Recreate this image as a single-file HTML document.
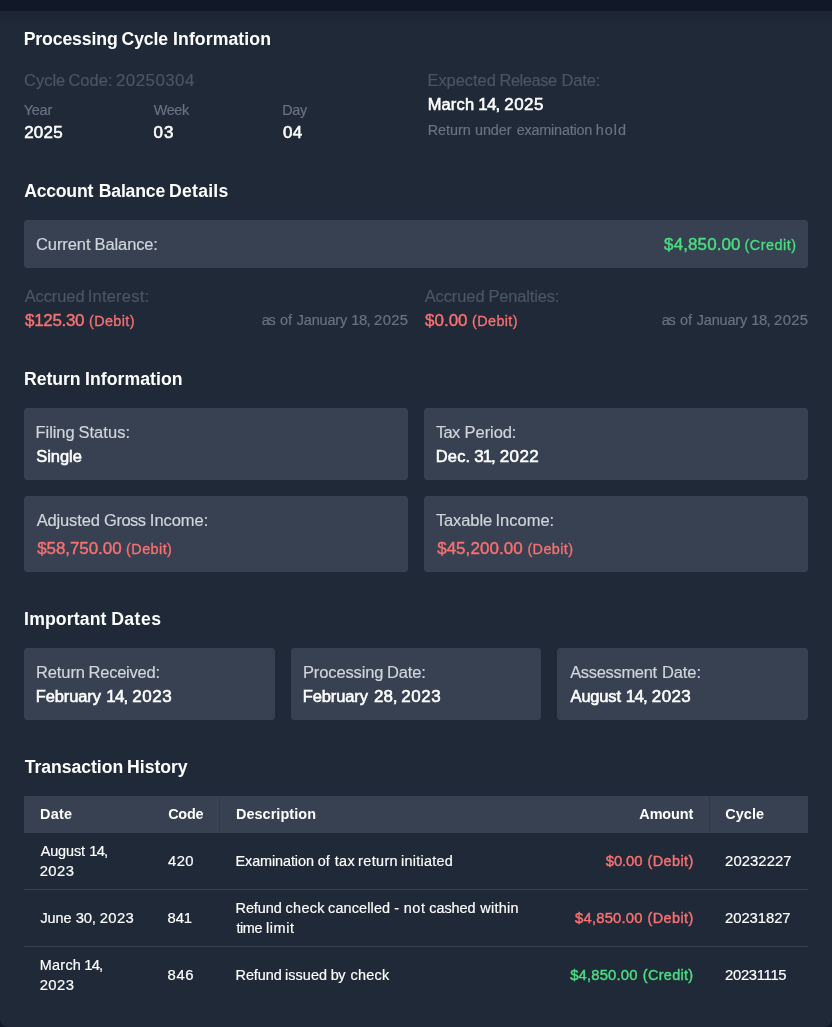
<!DOCTYPE html>
<html><head><meta charset="utf-8">
<style>
*{box-sizing:border-box;margin:0;padding:0}
html,body{width:832px;height:1027px;overflow:hidden;background:#111827}
body{font-family:"Liberation Sans",sans-serif;color:#fff;position:relative}
.card{position:absolute;left:0;top:0;width:832px;height:1027px;background:#1f2937;border-radius:0 0 8px 8px;padding:24px;will-change:transform;-webkit-text-stroke-width:0.18px}
.topband{position:absolute;left:0;top:0;width:832px;height:11px;background:#111827;z-index:5}
.topshadow{position:absolute;left:0;top:11px;width:832px;height:14px;background:linear-gradient(#1c2632,#1f2937);z-index:4}
.t{display:inline-block;white-space:nowrap;transform-origin:0 50%}
.u{display:inline-block;position:relative}
h3{-webkit-text-stroke-width:0;font-size:18px;line-height:28px;font-weight:700;color:#fff;margin-bottom:16px}
.sec{margin-bottom:32px}
.p{font-size:16px;line-height:24px}
.p .u,h3 .u{top:1px}
.p .sm .u{top:1px;-webkit-text-stroke-width:0.3px}
.sm{font-size:14px;line-height:20px}
.dim{color:#4b5563}
.g5{color:#6b7280}
.g3{color:#d1d5db}
.w{color:#fff;-webkit-text-stroke:0.55px #fff}
.red{color:#f87171;-webkit-text-stroke:0.4px #f87171}
.green{color:#4ade80;-webkit-text-stroke:0.4px #4ade80}
.box{background:#374151;border-radius:4px;padding:12px}
.row{display:flex}
.sb{justify-content:space-between}
.tbl{width:784px;font-size:14px;line-height:20px;color:#fff}
.tr{display:flex;align-items:center;border-bottom:1px solid #374151}
.tr>div{padding:0 16px}
.th{background:#374151;font-weight:700;-webkit-text-stroke-width:0}
.c1{width:128px}.c2{width:68px}.c3{width:320px}.c4{width:169px;text-align:right}.c5{width:99px}
.seam{position:absolute;top:0;width:1px;height:36px;background:rgba(31,41,55,.3);padding:0}
.tred{color:#f87171;-webkit-text-stroke:0.4px #f87171}.tgreen{color:#4ade80;-webkit-text-stroke:0.4px #4ade80}
</style></head><body>
<div class="card">
 <div class="sec">
  <h3><span class="t" style="transform:scaleX(0.980)"><span class="u" style="left:-0.33px;letter-spacing:-0.127px;margin-right:0.127px">Processing</span></span> <span class="t" style="transform:scaleX(0.980)"><span class="u" style="left:-3.54px;letter-spacing:-0.122px;margin-right:0.122px">Cycle</span></span> <span class="t" style="transform:scaleX(0.980)"><span class="u" style="left:-4.05px;letter-spacing:0.093px;margin-right:-0.093px">Information</span></span></h3>
  <div class="row" style="gap:24px">
   <div style="width:380px">
    <div class="p dim"><span class="t" style="transform:scaleX(1.030)"><span class="u" style="left:0.02px;letter-spacing:0.006px;margin-right:-0.006px">Cycle</span></span> <span class="t" style="transform:scaleX(1.030)"><span class="u" style="left:-0.60px;letter-spacing:0.038px;margin-right:-0.038px">Code:</span></span> <span class="t" style="transform:scaleX(1.060)"><span class="u" style="left:0.03px;letter-spacing:0.387px;margin-right:-0.387px">20250304</span></span></div>
    <div class="row" style="gap:8px;margin-top:8px">
     <div style="width:121.33px"><div class="sm g5"><span class="t" style="transform:scaleX(1.030)"><span class="u" style="left:-0.37px;letter-spacing:-0.179px;margin-right:0.179px">Year</span></span></div><div class="p w"><span class="t" style="transform:scaleX(1.060)"><span class="u" style="left:0.16px;letter-spacing:0.260px;margin-right:-0.260px">2025</span></span></div></div>
     <div style="width:121.33px"><div class="sm g5"><span class="t" style="transform:scaleX(1.030)"><span class="u" style="left:0.66px;letter-spacing:-0.353px;margin-right:0.353px">Week</span></span></div><div class="p w"><span class="t" style="transform:scaleX(1.060)"><span class="u" style="left:0.40px;letter-spacing:1.133px;margin-right:-1.133px">03</span></span></div></div>
     <div style="width:121.33px"><div class="sm g5"><span class="t" style="transform:scaleX(1.030)"><span class="u" style="left:-0.84px;letter-spacing:-0.322px;margin-right:0.322px">Day</span></span></div><div class="p w"><span class="t" style="transform:scaleX(1.060)"><span class="u" style="left:0.02px;letter-spacing:0.256px;margin-right:-0.256px">04</span></span></div></div>
    </div>
   </div>
   <div style="width:380px">
    <div class="p dim"><span class="t" style="transform:scaleX(1.030)"><span class="u" style="left:-0.53px;letter-spacing:-0.040px;margin-right:0.040px">Expected</span></span> <span class="t" style="transform:scaleX(1.030)"><span class="u" style="left:0.46px;letter-spacing:-0.444px;margin-right:0.444px">Release</span></span> <span class="t" style="transform:scaleX(1.030)"><span class="u" style="left:2.42px;letter-spacing:-0.108px;margin-right:0.108px">Date:</span></span></div>
    <div class="p w"><span class="t" style="transform:scaleX(1.030)"><span class="u" style="left:-0.35px;letter-spacing:0.151px;margin-right:-0.151px">March</span></span> <span class="t" style="transform:scaleX(1.060)"><span class="u" style="left:0.32px;letter-spacing:-0.765px;margin-right:0.765px">14,</span></span> <span class="t" style="transform:scaleX(1.060)"><span class="u" style="left:1.15px;letter-spacing:0.495px;margin-right:-0.495px">2025</span></span></div>
    <div class="sm g5" style="margin-top:4px"><span class="t" style="transform:scaleX(1.030)"><span class="u" style="left:-0.33px;letter-spacing:-0.014px;margin-right:0.014px">Return</span></span> <span class="t" style="transform:scaleX(1.030)"><span class="u" style="left:0.89px;letter-spacing:-0.039px;margin-right:0.039px">under</span></span> <span class="t" style="transform:scaleX(1.030)"><span class="u" style="left:3.56px;letter-spacing:-0.201px;margin-right:0.201px">examination</span></span> <span class="t" style="transform:scaleX(1.030)"><span class="u" style="left:4.71px;letter-spacing:0.907px;margin-right:-0.907px">hold</span></span></div>
   </div>
  </div>
 </div>
 <div class="sec">
  <h3><span class="t" style="transform:scaleX(0.980)"><span class="u" style="left:0.16px;letter-spacing:-0.237px;margin-right:0.237px">Account</span></span> <span class="t" style="transform:scaleX(0.980)"><span class="u" style="left:-1.37px;letter-spacing:-0.170px;margin-right:0.170px">Balance</span></span> <span class="t" style="transform:scaleX(0.980)"><span class="u" style="left:-4.01px;letter-spacing:0.219px;margin-right:-0.219px">Details</span></span></h3>
  <div class="box row sb" style="height:48px">
   <div class="p g3"><span class="t" style="transform:scaleX(1.030)"><span class="u" style="left:-0.04px;letter-spacing:-0.059px;margin-right:0.059px">Current</span></span> <span class="t" style="transform:scaleX(1.030)"><span class="u" style="left:1.56px;letter-spacing:-0.109px;margin-right:0.109px">Balance:</span></span></div>
   <div class="p green"><span class="t" style="transform:scaleX(1.060)"><span class="u" style="left:-4.62px;letter-spacing:0.115px;margin-right:-0.115px">$4,850.00</span></span> <span class="sm"><span class="t" style="transform:scaleX(1.030)"><span class="u" style="left:-1.53px;letter-spacing:0.476px;margin-right:-0.476px">(Credit)</span></span></span></div>
  </div>
  <div class="row" style="gap:16px;margin-top:16px">
   <div style="width:384px">
    <div class="p dim"><span class="t" style="transform:scaleX(1.030)"><span class="u" style="left:0.64px;letter-spacing:-0.080px;margin-right:0.080px">Accrued</span></span> <span class="t" style="transform:scaleX(1.030)"><span class="u" style="left:0.69px;letter-spacing:0.216px;margin-right:-0.216px">Interest:</span></span></div>
    <div class="row sb"><div class="p red"><span class="t" style="transform:scaleX(1.060)"><span class="u" style="left:1.06px;letter-spacing:-0.293px;margin-right:0.293px">$125.30</span></span> <span class="sm"><span class="t" style="transform:scaleX(1.030)"><span class="u" style="left:3.86px;letter-spacing:0.365px;margin-right:-0.365px">(Debit)</span></span></span></div><div class="sm g5" style="line-height:24px"><span class="t" style="transform:scaleX(1.030)"><span class="u" style="left:-6.19px;letter-spacing:-1.106px;margin-right:1.106px">as</span></span> <span class="t" style="transform:scaleX(1.030)"><span class="u" style="left:-5.78px;letter-spacing:-0.127px;margin-right:0.127px">of</span></span> <span class="t" style="transform:scaleX(1.030)"><span class="u" style="left:-4.05px;letter-spacing:-0.166px;margin-right:0.166px">January</span></span> <span class="t" style="transform:scaleX(1.060)"><span class="u" style="left:-2.62px;letter-spacing:-0.540px;margin-right:0.540px">18,</span></span> <span class="t" style="transform:scaleX(1.060)"><span class="u" style="left:-1.82px;letter-spacing:0.308px;margin-right:-0.308px">2025</span></span></div></div>
   </div>
   <div style="width:384px">
    <div class="p dim"><span class="t" style="transform:scaleX(1.030)"><span class="u" style="left:0.64px;letter-spacing:-0.080px;margin-right:0.080px">Accrued</span></span> <span class="t" style="transform:scaleX(1.030)"><span class="u" style="left:1.44px;letter-spacing:-0.167px;margin-right:0.167px">Penalties:</span></span></div>
    <div class="row sb"><div class="p red"><span class="t" style="transform:scaleX(1.060)"><span class="u" style="left:1.06px;letter-spacing:-0.010px;margin-right:0.010px">$0.00</span></span> <span class="sm"><span class="t" style="transform:scaleX(1.030)"><span class="u" style="left:3.93px;letter-spacing:0.361px;margin-right:-0.361px">(Debit)</span></span></span></div><div class="sm g5" style="line-height:24px"><span class="t" style="transform:scaleX(1.030)"><span class="u" style="left:-6.19px;letter-spacing:-1.106px;margin-right:1.106px">as</span></span> <span class="t" style="transform:scaleX(1.030)"><span class="u" style="left:-5.78px;letter-spacing:-0.127px;margin-right:0.127px">of</span></span> <span class="t" style="transform:scaleX(1.030)"><span class="u" style="left:-4.05px;letter-spacing:-0.166px;margin-right:0.166px">January</span></span> <span class="t" style="transform:scaleX(1.060)"><span class="u" style="left:-2.62px;letter-spacing:-0.540px;margin-right:0.540px">18,</span></span> <span class="t" style="transform:scaleX(1.060)"><span class="u" style="left:-1.82px;letter-spacing:0.308px;margin-right:-0.308px">2025</span></span></div></div>
   </div>
  </div>
 </div>
 <div class="sec">
  <h3><span class="t" style="transform:scaleX(0.980)"><span class="u" style="left:0.11px;letter-spacing:-0.074px;margin-right:0.074px">Return</span></span> <span class="t" style="transform:scaleX(0.980)"><span class="u" style="left:-1.98px;letter-spacing:0.043px;margin-right:-0.043px">Information</span></span></h3>
  <div class="row" style="gap:16px">
   <div class="box" style="width:384px;height:72px"><div class="p g3"><span class="t" style="transform:scaleX(1.030)"><span class="u" style="left:-0.39px;letter-spacing:-0.088px;margin-right:0.088px">Filing</span></span> <span class="t" style="transform:scaleX(1.030)"><span class="u" style="left:0.39px;letter-spacing:0.062px;margin-right:-0.062px">Status:</span></span></div><div class="p w"><span class="t" style="transform:scaleX(1.030)"><span class="u" style="left:0.20px;letter-spacing:-0.018px;margin-right:0.018px">Single</span></span></div></div>
   <div class="box" style="width:384px;height:72px"><div class="p g3"><span class="t" style="transform:scaleX(1.030)"><span class="u" style="left:-0.12px;letter-spacing:-0.609px;margin-right:0.609px">Tax</span></span> <span class="t" style="transform:scaleX(1.030)"><span class="u" style="left:0.59px;letter-spacing:-0.060px;margin-right:0.060px">Period:</span></span></div><div class="p w"><span class="t" style="transform:scaleX(1.030)"><span class="u" style="left:-0.32px;letter-spacing:0.199px;margin-right:-0.199px">Dec.</span></span> <span class="t" style="transform:scaleX(1.060)"><span class="u" style="left:0.24px;letter-spacing:-0.994px;margin-right:0.994px">31,</span></span> <span class="t" style="transform:scaleX(1.060)"><span class="u" style="left:0.81px;letter-spacing:0.317px;margin-right:-0.317px">2022</span></span></div></div>
  </div>
  <div class="row" style="gap:16px;margin-top:16px">
   <div class="box" style="width:384px;height:76px"><div class="p g3"><span class="t" style="transform:scaleX(1.030)"><span class="u" style="left:0.61px;letter-spacing:-0.124px;margin-right:0.124px">Adjusted</span></span> <span class="t" style="transform:scaleX(1.030)"><span class="u" style="left:2.07px;letter-spacing:-0.503px;margin-right:0.503px">Gross</span></span> <span class="t" style="transform:scaleX(1.030)"><span class="u" style="left:2.75px;letter-spacing:-0.030px;margin-right:0.030px">Income:</span></span></div><div class="p red" style="line-height:28px;padding-top:2px"><span class="t" style="transform:scaleX(1.060)"><span class="u" style="left:1.07px;letter-spacing:-0.042px;margin-right:0.042px">$58,750.00</span></span> <span class="sm"><span class="t" style="transform:scaleX(1.030)"><span class="u" style="left:5.90px;letter-spacing:0.412px;margin-right:-0.412px">(Debit)</span></span></span></div></div>
   <div class="box" style="width:384px;height:76px"><div class="p g3"><span class="t" style="transform:scaleX(1.030)"><span class="u" style="left:-0.12px;letter-spacing:-0.088px;margin-right:0.088px">Taxable</span></span> <span class="t" style="transform:scaleX(1.030)"><span class="u" style="left:0.45px;letter-spacing:0.012px;margin-right:-0.012px">Income:</span></span></div><div class="p red" style="line-height:28px;padding-top:2px"><span class="t" style="transform:scaleX(1.060)"><span class="u" style="left:1.07px;letter-spacing:0.063px;margin-right:-0.063px">$45,200.00</span></span> <span class="sm"><span class="t" style="transform:scaleX(1.030)"><span class="u" style="left:6.22px;letter-spacing:0.371px;margin-right:-0.371px">(Debit)</span></span></span></div></div>
  </div>
 </div>
 <div class="sec">
  <h3><span class="t" style="transform:scaleX(0.980)"><span class="u" style="left:0.13px;letter-spacing:0.130px;margin-right:-0.130px">Important</span></span> <span class="t" style="transform:scaleX(0.980)"><span class="u" style="left:-1.89px;letter-spacing:0.449px;margin-right:-0.449px">Dates</span></span></h3>
  <div class="row" style="gap:16px">
   <div class="box" style="width:250.67px;height:72px"><div class="p g3"><span class="t" style="transform:scaleX(1.030)"><span class="u" style="left:-0.11px;letter-spacing:-0.063px;margin-right:0.063px">Return</span></span> <span class="t" style="transform:scaleX(1.030)"><span class="u" style="left:0.59px;letter-spacing:-0.230px;margin-right:0.230px">Received:</span></span></div><div class="p w"><span class="t" style="transform:scaleX(1.030)"><span class="u" style="left:-0.32px;letter-spacing:-0.103px;margin-right:0.103px">February</span></span> <span class="t" style="transform:scaleX(1.060)"><span class="u" style="left:2.23px;letter-spacing:-0.799px;margin-right:0.799px">14,</span></span> <span class="t" style="transform:scaleX(1.060)"><span class="u" style="left:3.09px;letter-spacing:0.524px;margin-right:-0.524px">2023</span></span></div></div>
   <div class="box" style="width:250.67px;height:72px"><div class="p g3"><span class="t" style="transform:scaleX(1.030)"><span class="u" style="left:-0.08px;letter-spacing:-0.104px;margin-right:0.104px">Processing</span></span> <span class="t" style="transform:scaleX(1.030)"><span class="u" style="left:1.86px;letter-spacing:-0.098px;margin-right:0.098px">Date:</span></span></div><div class="p w"><span class="t" style="transform:scaleX(1.030)"><span class="u" style="left:-0.32px;letter-spacing:-0.103px;margin-right:0.103px">February</span></span> <span class="t" style="transform:scaleX(1.060)"><span class="u" style="left:3.68px;letter-spacing:0.050px;margin-right:-0.050px">28,</span></span> <span class="t" style="transform:scaleX(1.060)"><span class="u" style="left:4.04px;letter-spacing:0.539px;margin-right:-0.539px">2023</span></span></div></div>
   <div class="box" style="width:250.67px;height:72px"><div class="p g3"><span class="t" style="transform:scaleX(1.030)"><span class="u" style="left:1.13px;letter-spacing:-0.304px;margin-right:0.304px">Assessment</span></span> <span class="t" style="transform:scaleX(1.030)"><span class="u" style="left:3.85px;letter-spacing:-0.076px;margin-right:0.076px">Date:</span></span></div><div class="p w"><span class="t" style="transform:scaleX(1.030)"><span class="u" style="left:1.53px;letter-spacing:-0.172px;margin-right:0.172px">August</span></span> <span class="t" style="transform:scaleX(1.060)"><span class="u" style="left:2.69px;letter-spacing:-0.835px;margin-right:0.835px">14,</span></span> <span class="t" style="transform:scaleX(1.060)"><span class="u" style="left:3.59px;letter-spacing:0.395px;margin-right:-0.395px">2023</span></span></div></div>
  </div>
 </div>
 <div>
  <h3><span class="t" style="transform:scaleX(0.980)"><span class="u" style="left:0.68px;letter-spacing:-0.047px;margin-right:0.047px">Transaction</span></span> <span class="t" style="transform:scaleX(0.980)"><span class="u" style="left:-2.97px;letter-spacing:-0.035px;margin-right:0.035px">History</span></span></h3>
  <div class="tbl">
   <div class="tr th" style="height:37px;position:relative"><i class="seam" style="left:195px"></i><i class="seam" style="left:685px"></i><div class="c1"><span class="t" style="transform:scaleX(1.030)"><span class="u" style="left:-0.10px;letter-spacing:0.304px;margin-right:-0.304px">Date</span></span></div><div class="c2"><span class="t" style="transform:scaleX(1.030)"><span class="u" style="left:0.13px;letter-spacing:-0.190px;margin-right:0.190px">Code</span></span></div><div class="c3"><span class="t" style="transform:scaleX(1.030)"><span class="u" style="left:-0.10px;letter-spacing:0.073px;margin-right:-0.073px">Description</span></span></div><div class="c4"><span class="t" style="transform:scaleX(1.030)"><span class="u" style="left:-1.60px;letter-spacing:-0.112px;margin-right:0.112px">Amount</span></span></div><div class="c5"><span class="t" style="transform:scaleX(1.030)"><span class="u" style="left:0.13px;letter-spacing:0.101px;margin-right:-0.101px">Cycle</span></span></div></div>
   <div class="tr" style="height:57px"><div class="c1"><span class="t" style="transform:scaleX(1.030)"><span class="u" style="left:0.64px;letter-spacing:-0.097px;margin-right:0.097px">August</span></span> <span class="t" style="transform:scaleX(1.060)"><span class="u" style="left:2.11px;letter-spacing:-0.765px;margin-right:0.765px">14,</span></span><br><span class="t" style="transform:scaleX(1.060)"><span class="u" style="left:-0.35px;letter-spacing:0.448px;margin-right:-0.448px">2023</span></span></div><div class="c2"><span class="t" style="transform:scaleX(1.060)"><span class="u" style="left:0.04px;letter-spacing:0.380px;margin-right:-0.380px">420</span></span></div><div class="c3"><span class="t" style="transform:scaleX(1.030)"><span class="u" style="left:-0.46px;letter-spacing:-0.095px;margin-right:0.095px">Examination</span></span> <span class="t" style="transform:scaleX(1.030)"><span class="u" style="left:1.62px;letter-spacing:0.164px;margin-right:-0.164px">of</span></span> <span class="t" style="transform:scaleX(1.030)"><span class="u" style="left:2.65px;letter-spacing:0.326px;margin-right:-0.326px">tax</span></span> <span class="t" style="transform:scaleX(1.030)"><span class="u" style="left:2.99px;letter-spacing:0.356px;margin-right:-0.356px">return</span></span> <span class="t" style="transform:scaleX(1.030)"><span class="u" style="left:3.80px;letter-spacing:0.271px;margin-right:-0.271px">initiated</span></span></div><div class="c4 tred"><span class="t" style="transform:scaleX(1.060)"><span class="u" style="left:-4.04px;letter-spacing:-0.088px;margin-right:0.088px">$0.00</span></span> <span class="t" style="transform:scaleX(1.030)"><span class="u" style="left:-1.37px;letter-spacing:0.376px;margin-right:-0.376px">(Debit)</span></span></div><div class="c5"><span class="t" style="transform:scaleX(1.060)"><span class="u" style="left:0.12px;letter-spacing:0.055px;margin-right:-0.055px">20232227</span></span></div></div>
   <div class="tr" style="height:57px"><div class="c1"><span class="t" style="transform:scaleX(1.030)"><span class="u" style="left:0.43px;letter-spacing:-0.054px;margin-right:0.054px">June</span></span> <span class="t" style="transform:scaleX(1.060)"><span class="u" style="left:1.58px;letter-spacing:-0.251px;margin-right:0.251px">30,</span></span> <span class="t" style="transform:scaleX(1.060)"><span class="u" style="left:2.51px;letter-spacing:0.353px;margin-right:-0.353px">2023</span></span></div><div class="c2"><span class="t" style="transform:scaleX(1.060)"><span class="u" style="left:-0.36px;letter-spacing:-0.150px;margin-right:0.150px">841</span></span></div><div class="c3"><span class="t" style="transform:scaleX(1.030)"><span class="u" style="left:-0.46px;letter-spacing:-0.069px;margin-right:0.069px">Refund</span></span> <span class="t" style="transform:scaleX(1.030)"><span class="u" style="left:0.41px;letter-spacing:0.361px;margin-right:-0.361px">check</span></span> <span class="t" style="transform:scaleX(1.030)"><span class="u" style="left:1.09px;letter-spacing:0.131px;margin-right:-0.131px">cancelled</span></span> <span class="t" style="transform:scaleX(1.030)"><span class="u" style="left:3.18px;letter-spacing:0.000px;margin-right:0.000px">-</span></span> <span class="t" style="transform:scaleX(1.030)"><span class="u" style="left:4.50px;letter-spacing:0.682px;margin-right:-0.682px">not</span></span> <span class="t" style="transform:scaleX(1.030)"><span class="u" style="left:5.18px;letter-spacing:-0.070px;margin-right:0.070px">cashed</span></span> <span class="t" style="transform:scaleX(1.030)"><span class="u" style="left:7.13px;letter-spacing:0.235px;margin-right:-0.235px">within</span></span><br><span class="t" style="transform:scaleX(1.030)"><span class="u" style="left:0.55px;letter-spacing:-0.450px;margin-right:0.450px">time</span></span> <span class="t" style="transform:scaleX(1.030)"><span class="u" style="left:0.89px;letter-spacing:0.620px;margin-right:-0.620px">limit</span></span></div><div class="c4 tred"><span class="t" style="transform:scaleX(1.060)"><span class="u" style="left:-5.56px;letter-spacing:0.152px;margin-right:-0.152px">$4,850.00</span></span> <span class="t" style="transform:scaleX(1.030)"><span class="u" style="left:-1.37px;letter-spacing:0.376px;margin-right:-0.376px">(Debit)</span></span></div><div class="c5"><span class="t" style="transform:scaleX(1.060)"><span class="u" style="left:0.12px;letter-spacing:-0.080px;margin-right:0.080px">20231827</span></span></div></div>
   <div class="tr" style="height:56px;border-bottom:0"><div class="c1"><span class="t" style="transform:scaleX(1.030)"><span class="u" style="left:-0.21px;letter-spacing:0.246px;margin-right:-0.246px">March</span></span> <span class="t" style="transform:scaleX(1.060)"><span class="u" style="left:0.21px;letter-spacing:-0.764px;margin-right:0.764px">14,</span></span><br><span class="t" style="transform:scaleX(1.060)"><span class="u" style="left:-0.35px;letter-spacing:0.448px;margin-right:-0.448px">2023</span></span></div><div class="c2"><span class="t" style="transform:scaleX(1.060)"><span class="u" style="left:-0.36px;letter-spacing:0.514px;margin-right:-0.514px">846</span></span></div><div class="c3"><span class="t" style="transform:scaleX(1.030)"><span class="u" style="left:-0.46px;letter-spacing:-0.069px;margin-right:0.069px">Refund</span></span> <span class="t" style="transform:scaleX(1.030)"><span class="u" style="left:-0.10px;letter-spacing:0.084px;margin-right:-0.084px">issued</span></span> <span class="t" style="transform:scaleX(1.030)"><span class="u" style="left:1.64px;letter-spacing:-0.372px;margin-right:0.372px">by</span></span> <span class="t" style="transform:scaleX(1.030)"><span class="u" style="left:2.35px;letter-spacing:0.292px;margin-right:-0.292px">check</span></span></div><div class="c4 tgreen"><span class="t" style="transform:scaleX(1.060)"><span class="u" style="left:-6.48px;letter-spacing:0.156px;margin-right:-0.156px">$4,850.00</span></span> <span class="t" style="transform:scaleX(1.030)"><span class="u" style="left:-1.14px;letter-spacing:0.304px;margin-right:-0.304px">(Credit)</span></span></div><div class="c5"><span class="t" style="transform:scaleX(1.060)"><span class="u" style="left:0.12px;letter-spacing:-0.321px;margin-right:0.321px">20231115</span></span></div></div>
  </div>
 </div>
</div>
<div class="topband"></div><div class="topshadow"></div>
</body></html>
